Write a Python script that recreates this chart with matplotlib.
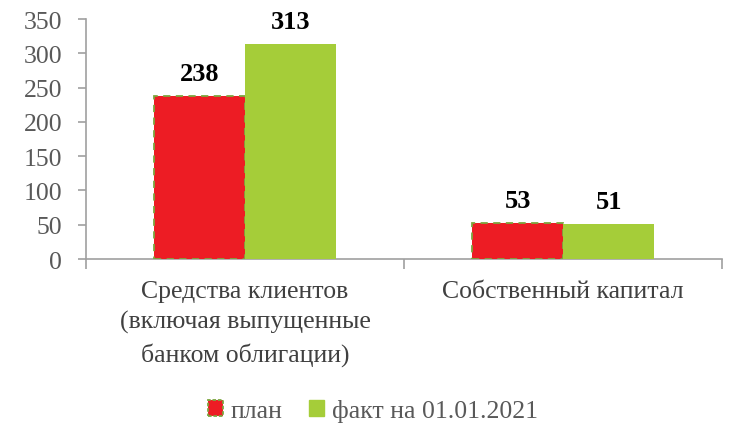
import numpy as np
from matplotlib import pyplot as plt
from matplotlib.patches import Patch

categories = ['Средства клиентов\n(включая выпущенные\nбанком облигации)', 'Собственный капитал']
plan = [238, 53]
fact = [313, 51]
series_names = ['план', 'факт на 01.01.2021']
y_ticks = [0, 50, 100, 150, 200, 250, 300, 350]

red = '#ED1C24'
green = '#A5CD39'
edge_green = '#7DA63F'
grey_text = '#595959'
cat_text = '#404040'
axis_grey = '#A0A0A0'

plt.rcParams['font.family'] = ['Liberation Serif', 'DejaVu Serif']

fig = plt.figure(figsize=(7.31, 4.27), dpi=100)
ax = fig.add_axes([0.1176, 0.391, 0.8704, 0.562])

x = np.arange(len(categories))
w = 0.286
b1 = ax.bar(x - w / 2, plan, w, color=red, edgecolor=edge_green, linestyle=(0, (4, 3)), linewidth=1.3, zorder=3)
b2 = ax.bar(x + w / 2, fact, w, color=green, edgecolor=green, linewidth=0, zorder=3)

for bars, vals in ((b1, plan), (b2, fact)):
    for r, v in zip(bars, vals):
        ax.annotate(str(v), (r.get_x() + r.get_width() / 2, v), xytext=(0, 8), textcoords='offset points',
                    ha='center', va='bottom', fontsize=19, fontweight='bold', color='black')

ax.set_xlim(-0.5, len(categories) - 0.5)
ax.set_ylim(0, 350)
ax.set_yticks(y_ticks)
ax.set_yticklabels([str(t) for t in y_ticks])
ax.set_xticks(x)
ax.set_xticklabels(categories, linespacing=1.46)
ax.set_xticks(np.arange(len(categories) + 1) - 0.5, minor=True)

for s in ['top', 'right']:
    ax.spines[s].set_visible(False)
for s in ['left', 'bottom']:
    ax.spines[s].set_color(axis_grey)
    ax.spines[s].set_linewidth(1.2)

ax.tick_params(axis='y', colors=axis_grey, labelcolor=grey_text, labelsize=18.5, length=6, width=1.2, pad=11)
ax.tick_params(axis='x', which='major', length=0, labelcolor=cat_text, labelsize=18.5, pad=15)
ax.tick_params(axis='x', which='minor', length=7, width=1.2, colors=axis_grey)

handles = [Patch(facecolor=red, edgecolor=edge_green, linestyle=(0, (2, 1)), linewidth=1.3),
           Patch(facecolor=green, edgecolor=green)]
leg = fig.legend(handles, series_names, loc='lower center', bbox_to_anchor=(0.51, -0.045), ncol=2, frameon=False,
                 fontsize=18.5, handlelength=0.6, handleheight=0.6, handletextpad=0.3, columnspacing=1.0)
for t in leg.get_texts():
    t.set_color(grey_text)

fig.savefig('out.png', dpi=100)
